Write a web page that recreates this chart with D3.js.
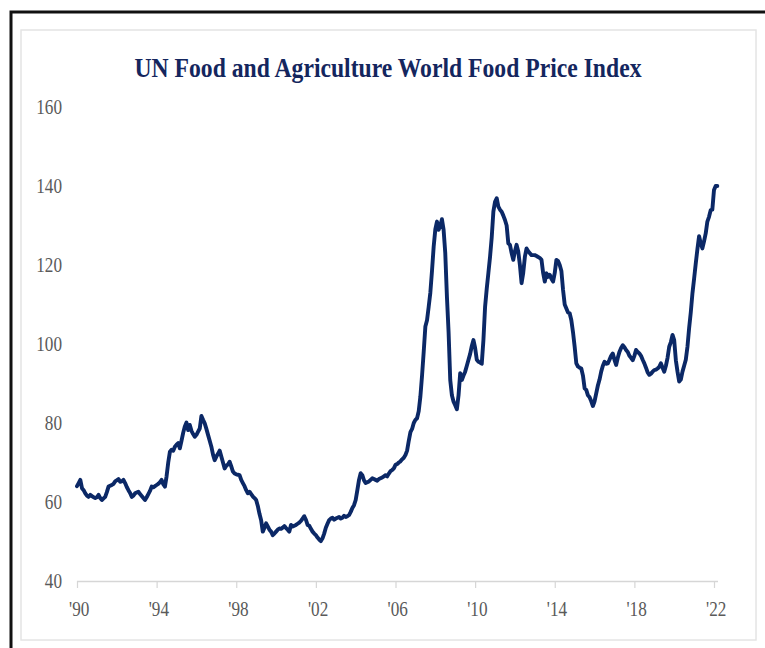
<!DOCTYPE html>
<html><head><meta charset="utf-8">
<script src="https://cdn.jsdelivr.net/npm/d3@7/dist/d3.min.js"></script>
<style>body{margin:0;background:#fff}svg{display:block}</style>
</head><body><svg id="chart" width="765" height="648"></svg>
<script>
const chartTitle = "UN Food and Agriculture World Food Price Index";
const startYear = 1990; // first value = Jan 1990, monthly
const v1990s = [
  64.0,64.8,65.6,63.5,63.0,62.2,61.6,61.3,61.8,61.5,61.2,61.0,
  61.2,61.8,61.0,60.5,60.9,61.3,62.5,63.9,64.1,64.3,64.6,65.2,
  65.5,65.8,65.1,65.2,65.6,64.8,63.8,63.0,62.3,61.3,61.6,62.2,
  62.4,62.6,62.0,61.5,61.0,60.5,61.2,62.0,62.8,63.9,63.7,64.0,
  64.3,64.6,65.0,65.6,64.5,63.9,66.5,70.0,72.7,73.2,73.0,74.0,
  74.5,74.9,73.6,75.5,77.5,79.1,80.1,78.2,79.5,78.0,77.2,76.5,
  77.0,77.8,78.6,81.8,80.8,79.9,78.5,77.0,75.5,74.0,72.0,70.6,
  71.5,72.2,73.0,71.5,70.0,68.5,69.2,69.5,70.2,69.0,67.7,67.2,
  67.0,66.9,66.8,65.6,64.8,64.0,63.0,62.2,62.6,62.0,61.4,61.0,
  60.5,59.0,57.0,55.4,52.5,53.5,54.6,53.8,53.0,52.5,51.6,52.0
];
const v2000s = [
  52.5,53.0,53.3,53.2,53.5,53.9,53.4,53.0,52.5,54.2,53.8,54.0,
  54.2,54.5,54.8,55.2,55.8,56.4,55.5,54.2,54.0,53.2,52.5,52.0,
  51.6,51.0,50.5,50.1,50.8,52.0,53.5,54.5,55.4,55.8,56.0,55.5,
  55.8,56.0,56.2,55.8,56.0,56.5,56.2,56.4,56.7,57.5,58.5,59.2,
  60.5,63.0,65.6,67.3,66.8,65.5,64.8,65.0,65.2,65.6,66.0,65.8,
  65.6,65.4,65.8,66.0,66.2,66.5,66.8,66.5,67.2,67.8,68.1,68.5,
  69.4,69.6,70.0,70.3,70.8,71.2,71.9,73.0,75.5,77.7,78.5,80.0,
  80.8,81.2,83.0,86.7,92.0,98.0,104.4,106.0,109.4,113.0,118.5,124.6,
  129.0,131.0,128.9,130.0,131.6,128.9,123.0,112.0,103.0,90.9,87.0,85.4,
  84.5,83.5,87.0,92.6,90.9,92.0,93.0,94.5,96.0,97.5,99.5,101.0
];
const v2010s = [
  99.0,96.0,95.5,95.3,95.0,101.0,109.4,114.0,118.0,122.1,127.0,133.5,
  136.0,136.9,134.8,134.0,133.5,132.5,131.4,130.0,125.5,125.1,123.0,121.3,
  123.5,125.1,123.4,120.0,115.4,118.0,122.1,124.2,123.5,123.0,122.5,122.5,
  122.5,122.3,122.0,121.8,121.3,118.0,115.8,117.9,117.0,117.5,116.5,115.8,
  118.0,121.3,121.0,120.0,118.5,113.7,110.0,109.0,108.0,107.8,106.0,103.0,
  99.3,95.1,94.3,94.0,93.8,92.0,88.8,88.4,87.0,86.5,85.5,84.3,
  85.5,87.5,89.5,91.0,93.0,94.5,95.5,95.0,95.1,96.0,97.0,97.6,
  96.0,94.7,96.5,98.0,99.0,99.7,99.2,98.5,98.0,97.0,96.5,95.9,
  97.0,98.5,98.0,97.6,97.0,96.0,95.1,94.0,92.8,92.2,92.5,93.0,
  93.4,93.5,93.8,94.2,95.1,94.0,93.0,94.5,96.5,99.3,100.5,102.3
];
const v2020s = [
  101.0,95.9,93.0,90.5,91.0,93.0,94.5,96.0,99.3,104.0,108.0,112.8,
  116.5,120.4,124.0,127.3,125.5,124.2,126.0,128.0,131.0,132.2,133.9,134.0,
  139.0,140.0,140.0
];
const yTickValues = [40, 60, 80, 100, 120, 140, 160];
const xTickYears = [1990, 1994, 1998, 2002, 2006, 2010, 2014, 2018, 2022];
const xTickLabels = ["'90", "'94", "'98", "'02", "'06", "'10", "'14", "'18", "'22"];

const values = [...v1990s, ...v2000s, ...v2010s, ...v2020s];
const series = values.map((v, i) => ({ t: startYear + i / 12, v }));

const svg = d3.select("#chart");
const W = 765, H = 648;
svg.append("rect").attr("width", W).attr("height", H).attr("fill", "#fff");

// outer black frame (left + top visible)
svg.append("path").attr("d", "M11,648 V12 H765").attr("fill", "none")
  .attr("stroke", "#111").attr("stroke-width", 3);
// inner light panel
svg.append("rect").attr("x", 21).attr("y", 30).attr("width", 735).attr("height", 610)
  .attr("fill", "#fff").attr("stroke", "#e4e4e4").attr("stroke-width", 1.5);

const x = d3.scaleLinear().domain([1990, 2022]).range([77, 714]);
const y = d3.scaleLinear().domain([40, 160]).range([581, 107]);

// title
svg.append("text").attr("x", 388).attr("y", 77).attr("text-anchor", "middle")
  .attr("font-family", "'Liberation Serif', 'DejaVu Serif', serif")
  .attr("font-weight", "bold").attr("font-size", 28).attr("fill", "#14265e")
  .attr("textLength", 507).attr("lengthAdjust", "spacingAndGlyphs")
  .text(chartTitle);

const labelFont = "'Liberation Serif', 'DejaVu Serif', serif";
// y labels
const yAxis = d3.axisLeft(y).tickValues(yTickValues).tickSize(0).tickPadding(0);
const gy = svg.append("g").attr("transform", "translate(62,0)").call(yAxis);
gy.select(".domain").remove();
gy.selectAll("text").attr("font-family", labelFont).attr("font-size", 20)
  .attr("fill", "#5a5a5a").attr("x", 0).attr("dy", "0.34em")
  .attr("transform", "scale(0.86,1)");

// x axis
const xAxis = d3.axisBottom(x).tickValues(xTickYears)
  .tickFormat((d, i) => xTickLabels[i]).tickSize(7).tickSizeOuter(0).tickPadding(14);
const gx = svg.append("g").attr("transform", "translate(0,581)").call(xAxis);
gx.select(".domain").attr("stroke", "#d6d6d6").attr("stroke-width", 1.5)
  .attr("d", `M${x(1990)},0.5H${x(2022) + 4}`);
gx.selectAll(".tick line").attr("stroke", "#d6d6d6").attr("stroke-width", 1.2);
gx.selectAll(".tick text").attr("font-family", labelFont).attr("font-size", 20)
  .attr("fill", "#5a5a5a").attr("dy", "0.71em").attr("x", 2)
  .attr("transform", "scale(0.86,1)");

// line
const line = d3.line().x(d => x(d.t)).y(d => y(d.v)).curve(d3.curveLinear);
svg.append("path").datum(series).attr("d", line).attr("fill", "none")
  .attr("stroke", "#0b2866").attr("stroke-width", 3.9)
  .attr("stroke-linejoin", "round").attr("stroke-linecap", "round");
</script></body></html>
